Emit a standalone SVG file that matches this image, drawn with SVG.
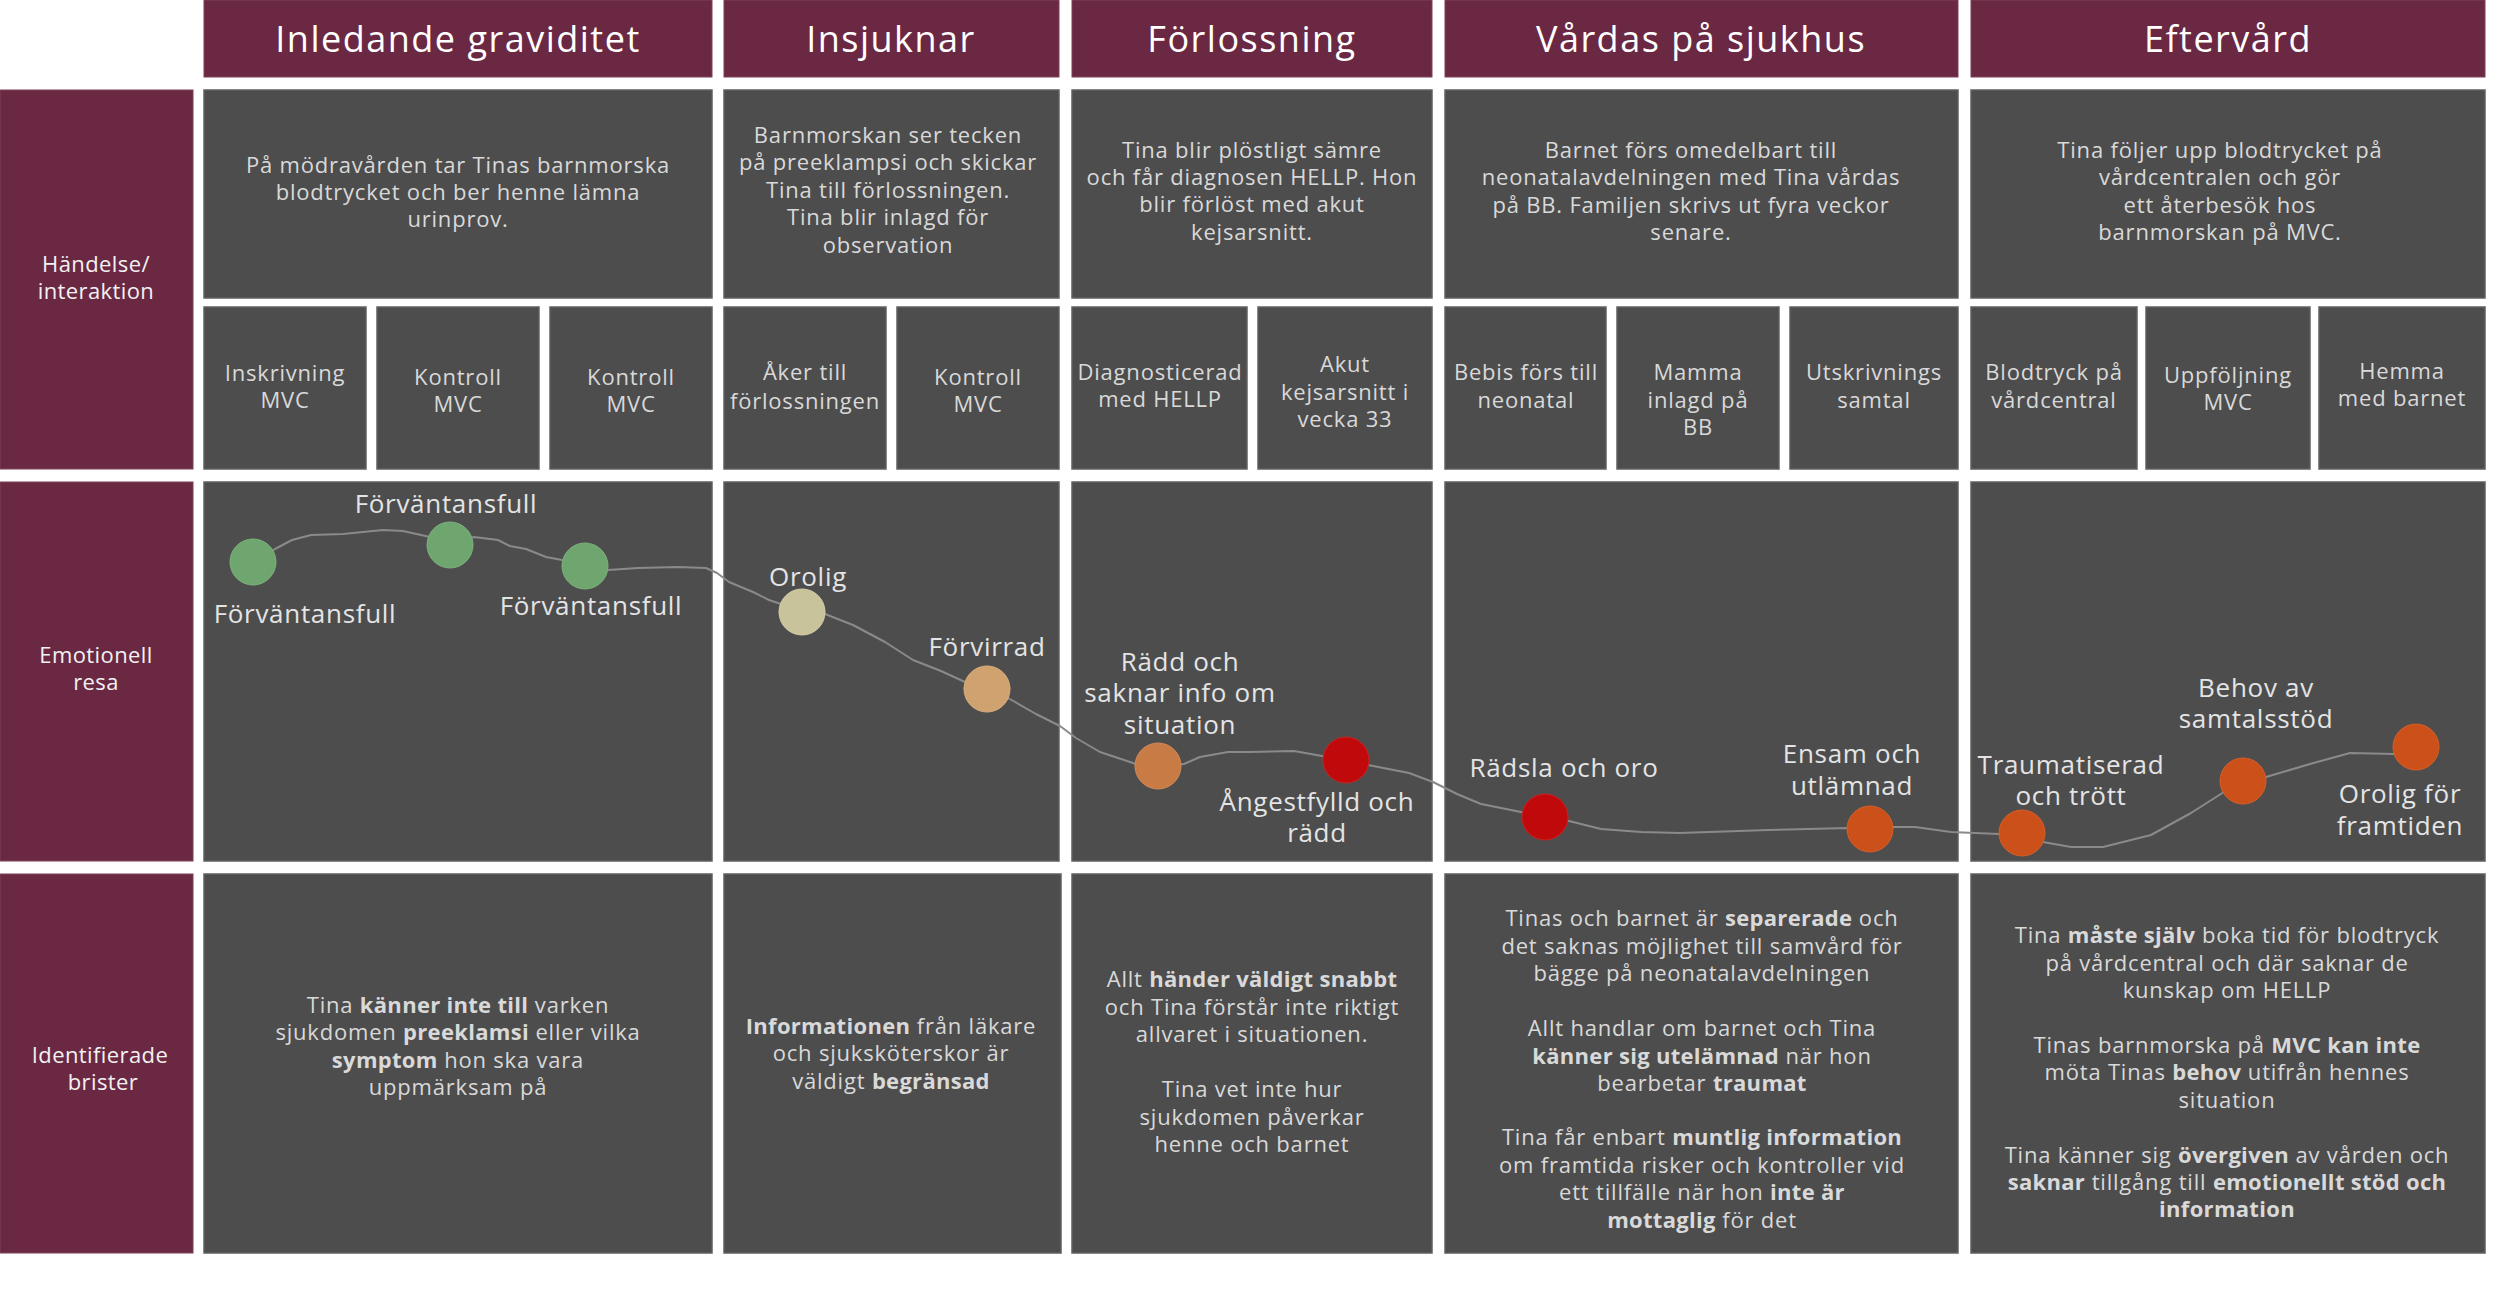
<svg xmlns="http://www.w3.org/2000/svg" width="2500" height="1314" viewBox="0 0 2500 1314">
<style>
.hdr{fill:#6b2843;stroke:#7d4058;stroke-width:1}
.box{fill:#4d4d4d;stroke:#606060;stroke-width:1.5}
.ht{font-family:"Open Sans","Noto Sans",sans-serif;font-size:36px;letter-spacing:1.5px;fill:#ffffff;text-anchor:middle}
.lt{font-family:"Open Sans","Noto Sans",sans-serif;font-size:22px;letter-spacing:0.4px;fill:#f2f2f2;text-anchor:middle}
.bt{font-family:"Open Sans","Noto Sans",sans-serif;font-size:22px;letter-spacing:0.8px;fill:#d9d9d9;text-anchor:middle}
.et{font-family:"Open Sans","Noto Sans",sans-serif;font-size:26px;letter-spacing:0.7px;fill:#e4e4e4;text-anchor:middle}
.b{font-weight:700;letter-spacing:0.3px}
.line{fill:none;stroke:#8a8a8a;stroke-width:2;stroke-linejoin:round;stroke-linecap:round}
.g{fill:#6fa56e;stroke:#7db37c;stroke-width:1}
.be{fill:#c9c39c;stroke:#d6d0aa;stroke-width:1}
.tan{fill:#cfa26f;stroke:#dbb07e;stroke-width:1}
.or{fill:#c97b45;stroke:#d48a55;stroke-width:1}
.rd{fill:#c0090a;stroke:#cc2222;stroke-width:1}
.orr{fill:#cb5019;stroke:#d66028;stroke-width:1}
</style>
<rect width="2500" height="1314" fill="#ffffff"/>

<!-- Row labels -->
<g id="label-handelse">
<rect class="hdr" x="0" y="90" width="193" height="379"/>
<text class="lt" x="96" y="272">Händelse/</text>
<text class="lt" x="96" y="299">interaktion</text>
</g>
<g id="label-emotionell">
<rect class="hdr" x="0" y="482" width="193" height="379"/>
<text class="lt" x="96" y="663">Emotionell</text>
<text class="lt" x="96" y="690">resa</text>
</g>
<g id="label-brister">
<rect class="hdr" x="0" y="874" width="193" height="379"/>
<text class="lt" x="100" y="1063">Identifierade</text>
<text class="lt" x="103" y="1090">brister</text>
</g>

<!-- Column: Inledande graviditet -->
<g id="col-inledande">
<rect class="hdr" x="204" y="0" width="508" height="77"/>
<text class="ht" x="458" y="52">Inledande graviditet</text>
<rect class="box" x="204" y="90" width="508" height="208"/>
<text class="bt" x="458" y="173">På mödravården tar Tinas barnmorska</text>
<text class="bt" x="458" y="200">blodtrycket och ber henne lämna</text>
<text class="bt" x="458" y="227">urinprov.</text>
<rect class="box" x="204" y="307" width="162" height="162"/>
<text class="bt" x="285" y="381">Inskrivning</text>
<text class="bt" x="285" y="408">MVC</text>
<rect class="box" x="377" y="307" width="162" height="162"/>
<text class="bt" x="458" y="385">Kontroll</text>
<text class="bt" x="458" y="412">MVC</text>
<rect class="box" x="550" y="307" width="162" height="162"/>
<text class="bt" x="631" y="385">Kontroll</text>
<text class="bt" x="631" y="412">MVC</text>
<rect class="box" x="204" y="482" width="508" height="379"/>
<rect class="box" x="204" y="874" width="508" height="379"/>
<text class="bt" x="458" y="1013">Tina <tspan class="b">känner inte till</tspan> varken</text>
<text class="bt" x="458" y="1040">sjukdomen <tspan class="b">preeklamsi</tspan> eller vilka</text>
<text class="bt" x="458" y="1068"><tspan class="b">symptom</tspan> hon ska vara</text>
<text class="bt" x="458" y="1095">uppmärksam på</text>
</g>

<!-- Column: Insjuknar -->
<g id="col-insjuknar">
<rect class="hdr" x="724" y="0" width="335" height="77"/>
<text class="ht" x="891" y="52">Insjuknar</text>
<rect class="box" x="724" y="90" width="335" height="208"/>
<text class="bt" x="888" y="143">Barnmorskan ser tecken</text>
<text class="bt" x="888" y="170">på preeklampsi och skickar</text>
<text class="bt" x="888" y="198">Tina till förlossningen.</text>
<text class="bt" x="888" y="225">Tina blir inlagd för</text>
<text class="bt" x="888" y="253">observation</text>
<rect class="box" x="724" y="307" width="162" height="162"/>
<text class="bt" x="805" y="380">Åker till</text>
<text class="bt" x="805" y="409">förlossningen</text>
<rect class="box" x="897" y="307" width="162" height="162"/>
<text class="bt" x="978" y="385">Kontroll</text>
<text class="bt" x="978" y="412">MVC</text>
<rect class="box" x="724" y="482" width="335" height="379"/>
<rect class="box" x="724" y="874" width="337" height="379"/>
<text class="bt" x="891" y="1034"><tspan class="b">Informationen</tspan> från läkare</text>
<text class="bt" x="891" y="1061">och sjuksköterskor är</text>
<text class="bt" x="891" y="1089">väldigt <tspan class="b">begränsad</tspan></text>
</g>

<!-- Column: Förlossning -->
<g id="col-forlossning">
<rect class="hdr" x="1072" y="0" width="360" height="77"/>
<text class="ht" x="1252" y="52">Förlossning</text>
<rect class="box" x="1072" y="90" width="360" height="208"/>
<text class="bt" x="1252" y="158">Tina blir plöstligt sämre</text>
<text class="bt" x="1252" y="185">och får diagnosen HELLP. Hon</text>
<text class="bt" x="1252" y="212">blir förlöst med akut</text>
<text class="bt" x="1252" y="240">kejsarsnitt.</text>
<rect class="box" x="1072" y="307" width="175" height="162"/>
<text class="bt" x="1160" y="380">Diagnosticerad</text>
<text class="bt" x="1160" y="407">med HELLP</text>
<rect class="box" x="1258" y="307" width="174" height="162"/>
<text class="bt" x="1345" y="372">Akut</text>
<text class="bt" x="1345" y="400">kejsarsnitt i</text>
<text class="bt" x="1345" y="427">vecka 33</text>
<rect class="box" x="1072" y="482" width="360" height="379"/>
<rect class="box" x="1072" y="874" width="360" height="379"/>
<text class="bt" x="1252" y="987">Allt <tspan class="b">händer väldigt snabbt</tspan></text>
<text class="bt" x="1252" y="1015">och Tina förstår inte riktigt</text>
<text class="bt" x="1252" y="1042">allvaret i situationen.</text>
<text class="bt" x="1252" y="1097">Tina vet inte hur</text>
<text class="bt" x="1252" y="1125">sjukdomen påverkar</text>
<text class="bt" x="1252" y="1152">henne och barnet</text>
</g>

<!-- Column: Vårdas på sjukhus -->
<g id="col-vardas">
<rect class="hdr" x="1445" y="0" width="513" height="77"/>
<text class="ht" x="1701" y="52">Vårdas på sjukhus</text>
<rect class="box" x="1445" y="90" width="513" height="208"/>
<text class="bt" x="1691" y="158">Barnet förs omedelbart till</text>
<text class="bt" x="1691" y="185">neonatalavdelningen med Tina vårdas</text>
<text class="bt" x="1691" y="213">på BB. Familjen skrivs ut fyra veckor</text>
<text class="bt" x="1691" y="240">senare.</text>
<rect class="box" x="1445" y="307" width="161" height="162"/>
<text class="bt" x="1526" y="380">Bebis förs till</text>
<text class="bt" x="1526" y="408">neonatal</text>
<rect class="box" x="1617" y="307" width="162" height="162"/>
<text class="bt" x="1698" y="380">Mamma</text>
<text class="bt" x="1698" y="408">inlagd på</text>
<text class="bt" x="1698" y="435">BB</text>
<rect class="box" x="1790" y="307" width="168" height="162"/>
<text class="bt" x="1874" y="380">Utskrivnings</text>
<text class="bt" x="1874" y="408">samtal</text>
<rect class="box" x="1445" y="482" width="513" height="379"/>
<rect class="box" x="1445" y="874" width="513" height="379"/>
<text class="bt" x="1702" y="926">Tinas och barnet är <tspan class="b">separerade</tspan> och</text>
<text class="bt" x="1702" y="954">det saknas möjlighet till samvård för</text>
<text class="bt" x="1702" y="981">bägge på neonatalavdelningen</text>
<text class="bt" x="1702" y="1036">Allt handlar om barnet och Tina</text>
<text class="bt" x="1702" y="1064"><tspan class="b">känner sig utelämnad</tspan> när hon</text>
<text class="bt" x="1702" y="1091">bearbetar <tspan class="b">traumat</tspan></text>
<text class="bt" x="1702" y="1145">Tina får enbart <tspan class="b">muntlig information</tspan></text>
<text class="bt" x="1702" y="1173">om framtida risker och kontroller vid</text>
<text class="bt" x="1702" y="1200">ett tillfälle när hon <tspan class="b">inte är</tspan></text>
<text class="bt" x="1702" y="1228"><tspan class="b">mottaglig</tspan> för det</text>
</g>

<!-- Column: Eftervård -->
<g id="col-eftervard">
<rect class="hdr" x="1971" y="0" width="514" height="77"/>
<text class="ht" x="2228" y="52">Eftervård</text>
<rect class="box" x="1971" y="90" width="514" height="208"/>
<text class="bt" x="2220" y="158">Tina följer upp blodtrycket på</text>
<text class="bt" x="2220" y="185">vårdcentralen och gör</text>
<text class="bt" x="2220" y="213">ett återbesök hos</text>
<text class="bt" x="2220" y="240">barnmorskan på MVC.</text>
<rect class="box" x="1971" y="307" width="166" height="162"/>
<text class="bt" x="2054" y="380">Blodtryck på</text>
<text class="bt" x="2054" y="408">vårdcentral</text>
<rect class="box" x="2146" y="307" width="164" height="162"/>
<text class="bt" x="2228" y="383">Uppföljning</text>
<text class="bt" x="2228" y="410">MVC</text>
<rect class="box" x="2319" y="307" width="166" height="162"/>
<text class="bt" x="2402" y="379">Hemma</text>
<text class="bt" x="2402" y="406">med barnet</text>
<rect class="box" x="1971" y="482" width="514" height="379"/>
<rect class="box" x="1971" y="874" width="514" height="379"/>
<text class="bt" x="2227" y="943">Tina <tspan class="b">måste själv</tspan> boka tid för blodtryck</text>
<text class="bt" x="2227" y="971">på vårdcentral och där saknar de</text>
<text class="bt" x="2227" y="998">kunskap om HELLP</text>
<text class="bt" x="2227" y="1053">Tinas barnmorska på <tspan class="b">MVC kan inte</tspan></text>
<text class="bt" x="2227" y="1080">möta Tinas <tspan class="b">behov</tspan> utifrån hennes</text>
<text class="bt" x="2227" y="1108">situation</text>
<text class="bt" x="2227" y="1163">Tina känner sig <tspan class="b">övergiven</tspan> av vården och</text>
<text class="bt" x="2227" y="1190"><tspan class="b">saknar</tspan> tillgång till <tspan class="b">emotionellt stöd och</tspan></text>
<text class="bt" x="2227" y="1217"><tspan class="b">information</tspan></text>
</g>

<!-- Emotional journey connector -->
<g id="connectors">
<path class="line" d="M253,562 L275,549 L292,540 L311,535 L343,534 L383,530 L403,531 L430,537 L450,545 L474,537 L498,540 L510,546 L526,549 L546,557 L562,560 L585,566 L608,570 L638,568 L678,567 L706,568 L717,573 L729,582 L753,592 L769,600 L781,604 L802,612 L825,614 L853,625 L885,642 L913,660 L941,671 L965,682 L987,689 L1008,698 L1036,714 L1060,726 L1076,738 L1100,752 L1136,764 L1158,766 L1184,764 L1200,757 L1228,752 L1250,752 L1294,751 L1322,756 L1346,760 L1368,765 L1409,773 L1433,782 L1457,794 L1481,804 L1521,812 L1545,817 L1569,821 L1601,829 L1641,832 L1680,833 L1768,830 L1848,828 L1870,829 L1892,827 L1915,827 L1951,832 L1999,834 L2022,833 L2043,842 L2071,847 L2103,847 L2151,835 L2191,813 L2224,792 L2243,781 L2266,777 L2310,764 L2350,753 L2394,754 L2416,747"/>
</g>

<!-- Emotion nodes -->
<g id="emo-1"><circle class="g" cx="253" cy="562" r="23"/><text class="et" x="305" y="623">Förväntansfull</text></g>
<g id="emo-2"><circle class="g" cx="450" cy="545" r="23"/><text class="et" x="446" y="513">Förväntansfull</text></g>
<g id="emo-3"><circle class="g" cx="585" cy="566" r="23"/><text class="et" x="591" y="615">Förväntansfull</text></g>
<g id="emo-4"><circle class="be" cx="802" cy="612" r="23"/><text class="et" x="808" y="586">Orolig</text></g>
<g id="emo-5"><circle class="tan" cx="987" cy="689" r="23"/><text class="et" x="987" y="656">Förvirrad</text></g>
<g id="emo-6"><circle class="or" cx="1158" cy="766" r="23"/><text class="et" x="1180" y="671">Rädd och</text><text class="et" x="1180" y="702">saknar info om</text><text class="et" x="1180" y="734">situation</text></g>
<g id="emo-7"><circle class="rd" cx="1346" cy="760" r="23"/><text class="et" x="1317" y="811">Ångestfylld och</text><text class="et" x="1317" y="842">rädd</text></g>
<g id="emo-8"><circle class="rd" cx="1545" cy="817" r="23"/><text class="et" x="1564" y="777">Rädsla och oro</text></g>
<g id="emo-9"><circle class="orr" cx="1870" cy="829" r="23"/><text class="et" x="1852" y="763">Ensam och</text><text class="et" x="1852" y="795">utlämnad</text></g>
<g id="emo-10"><circle class="orr" cx="2022" cy="833" r="23"/><text class="et" x="2071" y="774">Traumatiserad</text><text class="et" x="2071" y="805">och trött</text></g>
<g id="emo-11"><circle class="orr" cx="2243" cy="781" r="23"/><text class="et" x="2256" y="697">Behov av</text><text class="et" x="2256" y="728">samtalsstöd</text></g>
<g id="emo-12"><circle class="orr" cx="2416" cy="747" r="23"/><text class="et" x="2400" y="803">Orolig för</text><text class="et" x="2400" y="835">framtiden</text></g>
</svg>
